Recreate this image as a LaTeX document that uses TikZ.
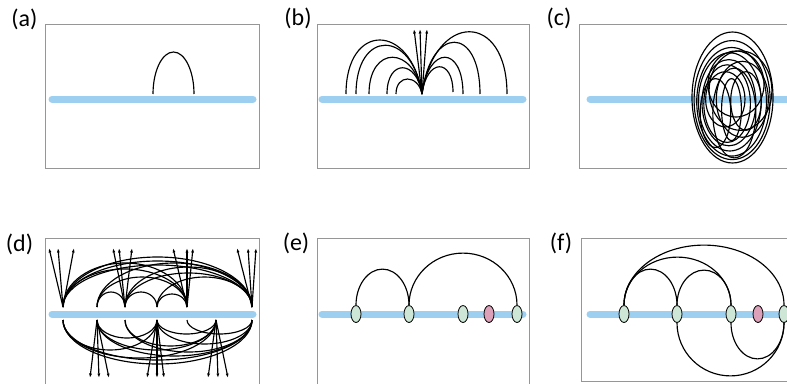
\documentclass[tikz,border=0pt]{standalone}
\usepackage{fontspec}
\setmainfont{Carlito}
\usetikzlibrary{arrows.meta,shapes.geometric}
\definecolor{chain}{RGB}{157,207,240}
\definecolor{frame}{RGB}{150,150,150}
\definecolor{gfill}{RGB}{205,230,214}
\definecolor{pfill}{RGB}{220,160,185}
\begin{document}
\begin{tikzpicture}[x=1pt,y=-1pt,
  panel/.style={draw=frame,line width=0.9pt},
  chainline/.style={draw=chain,line width=7pt,line cap=round},
  curve/.style={draw=black,line width=1.15pt},
  arr/.style={curve,-{Latex[length=4.5pt,width=3pt]}},
  lab/.style={font=\fontsize{24}{28}\selectfont,inner sep=0pt},
  bead/.style={ellipse,draw=black,line width=0.8pt,minimum width=10pt,minimum height=17pt,inner sep=0pt,fill=gfill},
  pbead/.style={bead,fill=pfill}]
\useasboundingbox (0,0) rectangle (787,383);
\clip (0,0) rectangle (787,383);

% ---------- labels ----------
\node[lab] (la) at (24.5,19) {(a)};
\node[lab] (lb) at (298,18) {(b)};
\node[lab] (lc) at (559,18) {(c)};
\node[lab] (ld) at (19.5,244) {(d)};
\node[lab] (le) at (296,243) {(e)};
\node[lab] (lf) at (561,243) {(f)};

% ---------- frames ----------
\draw[panel] (45.5,24) rectangle (259,168);
\draw[panel] (317,24) rectangle (529,168);
\draw[panel] (579,24) rectangle (800,168);
\draw[panel] (45.5,238) rectangle (259,400);
\draw[panel] (317,238) rectangle (529,400);
\draw[panel] (581,238) rectangle (800,381);

% ---------- chains ----------
\draw[chainline] (52,99) -- (253,99);
\draw[chainline] (322,99) -- (523,99);
\draw[chainline] (590,99) -- (800,99);
\draw[chainline] (52,314) -- (253,314);
\draw[chainline] (322,314) -- (523,314);
\draw[chainline] (590,314) -- (800,314);

% ---------- (a) ----------
\coordinate (a1) at (153,94);
\draw[curve] (a1) arc[start angle=180,end angle=0,x radius=20.5pt,y radius=42pt];

% ---------- (b) ----------
\coordinate (P) at (422,94);
\draw[curve] (346,94) .. controls (346,22) and (410.6,22) .. (P);
\draw[curve] (356,94) .. controls (356,29) and (412.1,29) .. (P);
\draw[curve] (369,94) .. controls (369,45) and (414,45) .. (P);
\draw[curve] (387,94) .. controls (387,59) and (416.7,59) .. (P);
\draw[curve] (396,94) .. controls (396,74) and (418.1,74) .. (P);
\draw[curve] (P) .. controls (426.7,58) and (453,58) .. (453,92);
\draw[curve] (P) .. controls (428.2,45) and (463,45) .. (463,94);
\draw[curve] (P) .. controls (430.7,25) and (480,25) .. (480,94);
\draw[curve] (P) .. controls (434.8,11) and (507,11) .. (507,94);
\coordinate (bt1) at (414,29);
\coordinate (bt2) at (420,29);
\coordinate (bt3) at (427,29);
\draw[arr] (P) -- (bt1);
\draw[arr] (P) -- (bt2);
\draw[arr] (P) -- (bt3);

% ---------- (c) ----------
\foreach \cx/\cy/\rx/\ry in {732.5/97.5/40.5/65.5, 732.1/100.1/38/59.5, 731.6/101.8/34.9/54.3,
  729.8/101.9/31.4/49.1, 728.9/102.7/26.9/43.1, 727.1/103.6/23.3/38.8,
  740.5/90.6/31.4/39.7, 742.3/99.3/26/38, 731.5/109.6/9.9/31, 746/101/15.3/29.3,
  725.3/99.3/19.7/27.6, 715.5/113.1/15.3/34.5, 734.3/113/21.5/44.9,
  736/84/28/33}
  \draw[curve] (\cx,\cy) ellipse[x radius=\rx pt,y radius=\ry pt];

% ---------- (d) ----------
\foreach \s/\e/\h in {63/252/50, 63/252/46, 63/252/42, 63/187/44, 63/187/38,
  97/252/44, 97/187/30, 97/125/15, 125/157/15, 125/252/40, 125/252/34,
  157/187/13, 157/252/30}
  \draw[curve] (\s,307) arc[start angle=180,end angle=0,x radius={(\e-\s)/2*1pt},y radius=\h pt];
\foreach \s/\e/\h in {63/252/44, 63/252/40, 63/216/38, 97/252/36, 97/216/30,
  125/216/26, 125/252/32, 157/252/24, 157/216/14, 97/157/18, 187/252/14, 63/157/30}
  \draw[curve] (\s,320) arc[start angle=180,end angle=360,x radius={(\e-\s)/2*1pt},y radius=\h pt];
\foreach \n/\x in {1/63,2/125,3/187,4/252} \coordinate (u\n) at (\x,307);
\foreach \n/\x in {1/97,2/157,3/216} \coordinate (d\n) at (\x,320);
\foreach \src/\tx in {u1/49, u1/58, u1/74, u2/113, u2/119, u2/132,
  u3/173, u3/187, u3/193, u4/237, u4/248, u4/256}
  \draw[arr] (\src) -- (\tx,248);
\foreach \src/\tx in {d1/90, d1/99, d1/109, d2/147, d2/157, d2/164,
  d3/208, d3/218, d3/228}
  \draw[arr] (\src) -- (\tx,378);

% ---------- (e) ----------
\node[bead] (e1) at (356,314) {};
\node[bead] (e2) at (409,314) {};
\node[bead] (e3) at (463,314) {};
\node[pbead] (e4) at (489,314) {};
\node[bead] (e5) at (517,314) {};
\draw[curve] (e1.north) arc[start angle=180,end angle=0,x radius=26.5pt,y radius=36pt];
\draw[curve] (e2.north) arc[start angle=180,end angle=0,x radius=54pt,y radius=52pt];

% ---------- (f) ----------
\node[bead] (f1) at (624,314) {};
\node[bead] (f2) at (677,314) {};
\node[bead] (f3) at (731,314) {};
\node[pbead] (f4) at (758,314) {};
\node[bead] (f5) at (784,314) {};
\draw[curve] (f1.north) arc[start angle=180,end angle=0,x radius=26.5pt,y radius=36pt];
\draw[curve] (f2.north) arc[start angle=180,end angle=0,x radius=27pt,y radius=35pt];
\draw[curve] (f1.north) arc[start angle=180,end angle=0,x radius=53.5pt,y radius=48pt];
\draw[curve] (f1.north) arc[start angle=180,end angle=0,x radius=80pt,y radius=60pt];
\draw[curve] (f2.south) arc[start angle=180,end angle=360,x radius=53.5pt,y radius=53pt];
\draw[curve] (f3.south) arc[start angle=180,end angle=360,x radius=26.5pt,y radius=36pt];
\end{tikzpicture}
\end{document}
